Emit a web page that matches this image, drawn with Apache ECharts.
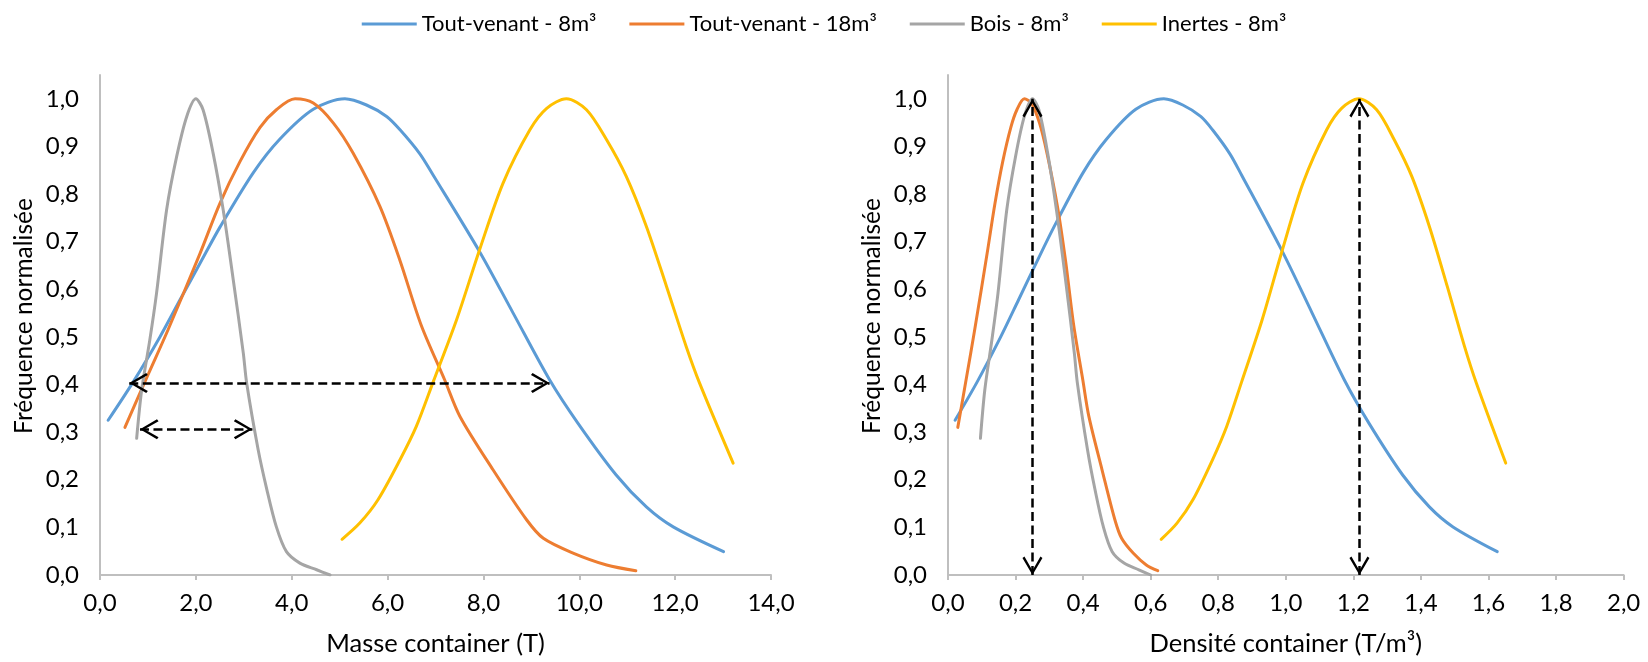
<!DOCTYPE html>
<html>
<head>
<meta charset="utf-8">
<script src="https://cdn.jsdelivr.net/npm/echarts@6/dist/echarts.min.js"></script>
<style>
html,body{margin:0;padding:0;background:#fff;}
#chart{width:1648px;height:662px;}
</style>
</head>
<body>
<div id="chart"></div>
<script>
// ---- Series names ----
const seriesNames = ['Tout-venant - 8m³', 'Tout-venant - 18m³', 'Bois - 8m³', 'Inertes - 8m³'];
const seriesColors = ['#5B9BD5', '#ED7D31', '#A5A5A5', '#FFC000'];

// ---- Normalised frequency values (shared by both panels) ----
const freqBlue   = [0.325,0.405,0.50,0.578,0.655,0.73,0.845,0.915,0.978,1.0,0.987,0.963,0.935,0.885,0.84,0.679,0.55,0.41,0.319,0.21,0.143,0.101,0.049];
const freqOrange = [0.31,0.42,0.515,0.676,0.78,0.868,0.94,0.977,1.0,0.991,0.949,0.886,0.774,0.66,0.525,0.41,0.333,0.221,0.116,0.077,0.046,0.021,0.009];
const freqGray   = [0.287,0.389,0.494,0.592,0.767,0.879,0.963,1.0,0.977,0.886,0.767,0.62,0.466,0.403,0.263,0.18,0.101,0.049,0.025,0.011,0.0];
const freqYellow = [0.075,0.109,0.158,0.242,0.312,0.405,0.536,0.683,0.823,0.935,0.98,1.0,0.977,0.914,0.837,0.732,0.606,0.48,0.403,0.235];

// ---- Left panel: container mass (T) ----
const massBlue   = [0.17,0.69,1.25,1.67,2.09,2.50,3.20,3.75,4.45,5.11,5.56,5.98,6.26,6.67,6.95,7.92,8.62,9.38,9.97,10.77,11.40,11.96,13.01];
const massOrange = [0.52,1.0,1.42,2.09,2.50,2.92,3.34,3.68,4.07,4.45,4.87,5.28,5.84,6.26,6.70,7.19,7.51,8.20,8.90,9.25,9.87,10.57,11.18];
const massGray   = [0.765,0.87,1.04,1.18,1.39,1.60,1.81,2.0,2.15,2.36,2.57,2.78,2.99,3.06,3.30,3.48,3.68,3.89,4.17,4.52,4.80];
const massYellow = [5.05,5.42,5.80,6.26,6.60,6.95,7.44,7.92,8.41,8.97,9.32,9.73,10.15,10.57,10.98,11.40,11.82,12.23,12.51,13.21];

// ---- Right panel: container density (T/m³) ----
const densBlue   = [0.021,0.086,0.156,0.209,0.261,0.313,0.400,0.469,0.556,0.639,0.695,0.748,0.783,0.834,0.869,0.990,1.078,1.173,1.246,1.346,1.425,1.495,1.626];
const densOrange = [0.029,0.056,0.079,0.116,0.139,0.162,0.186,0.204,0.226,0.247,0.271,0.293,0.324,0.348,0.372,0.399,0.417,0.456,0.494,0.514,0.548,0.587,0.621];
const densGray   = [0.096,0.109,0.130,0.148,0.174,0.200,0.226,0.250,0.269,0.295,0.321,0.348,0.374,0.383,0.413,0.435,0.460,0.486,0.521,0.565,0.600];
const densYellow = [0.631,0.678,0.725,0.783,0.825,0.869,0.930,0.990,1.051,1.121,1.165,1.216,1.269,1.321,1.373,1.425,1.478,1.529,1.564,1.651];

// ---- Annotation arrows [x1, y1, x2, y2] ----
const massArrows = [[0.61, 0.403, 9.38, 0.403], [0.834, 0.306, 3.18, 0.306]];
const densArrows = [[0.25, 0.0, 0.25, 1.0], [1.218, 0.0, 1.218, 1.0]];

// ---- Axis settings ----
const massAxis = {min: 0, max: 14, interval: 2, title: 'Masse container (T)'};
const densAxis = {min: 0, max: 2, interval: 0.2, title: 'Densité container (T/m³)'};
const freqAxis = {min: 0, max: 1.05, interval: 0.1, title: 'Fréquence normalisée'};

const FONT = 'Lato';
const TEXT_COLOR = '#000';
const AXIS_COLOR = '#BFBFBF';

function pairs(xs, ys) { return xs.map((v, i) => [v, ys[i]]); }
function fmt1(v) { return (Math.round(v * 10) / 10).toFixed(1).replace('.', ','); }

function xAxisCfg(idx, ax) {
  return {
    type: 'value', gridIndex: idx, min: ax.min, max: ax.max, interval: ax.interval,
    name: ax.title, nameLocation: 'middle', nameGap: 56,
    nameTextStyle: {fontFamily: FONT, fontSize: 25.5, color: TEXT_COLOR},
    axisLine: {show: true, lineStyle: {color: AXIS_COLOR, width: 2}},
    axisTick: {show: true, length: 5, lineStyle: {color: AXIS_COLOR, width: 2}},
    splitLine: {show: false},
    axisLabel: {fontFamily: FONT, fontSize: 24, color: TEXT_COLOR, margin: 16, formatter: fmt1}
  };
}
function yAxisCfg(idx) {
  return {
    type: 'value', gridIndex: idx, min: freqAxis.min, max: freqAxis.max, interval: freqAxis.interval,
    name: freqAxis.title, nameLocation: 'middle', nameGap: 63, nameRotate: 90,
    nameTextStyle: {fontFamily: FONT, fontSize: 24.5, color: TEXT_COLOR, padding: [0, 0, 0, 18]},
    axisLine: {show: true, lineStyle: {color: AXIS_COLOR, width: 2}},
    axisTick: {show: false},
    splitLine: {show: false},
    axisLabel: {fontFamily: FONT, fontSize: 24, color: TEXT_COLOR, margin: 21, showMaxLabel: false, formatter: fmt1}
  };
}

function curve(name, color, xs, ys, gi) {
  return {
    name: name, type: 'line', xAxisIndex: gi, yAxisIndex: gi,
    data: pairs(xs, ys), showSymbol: false, symbol: 'none',
    smooth: 0.3,
    lineStyle: {color: color, width: 3, cap: 'round', join: 'round'},
    itemStyle: {color: color},
    emphasis: {disabled: true}, z: 2
  };
}

// chevron with its tip at the centre of its bounding box (invisible zero-area subpath balances the box)
const chevron = 'path://M10,0 L20,17 L18,18.6 L10,4.5 L2,18.6 L0,17 Z M10,-18.6 L10.001,-18.6 L10,-18.6 Z';
function arrowSeries(arrows, gi) {
  return {
    name: 'arrows' + gi, type: 'line', xAxisIndex: gi, yAxisIndex: gi, data: [],
    silent: true, z: 5,
    markLine: {
      silent: true, animation: false,
      symbol: [chevron, chevron], symbolSize: [20, 37.2],
      label: {show: false},
      lineStyle: {color: '#000', width: 2.5, type: [9, 4.5], opacity: 1},
      itemStyle: {color: '#000'},
      emphasis: {disabled: true},
      data: arrows.map(a => [{coord: [a[0], a[1]]}, {coord: [a[2], a[3]]}])
    }
  };
}

const chart = echarts.init(document.getElementById('chart'), null, {renderer: 'canvas'});
chart.setOption({
  animation: false,
  backgroundColor: '#fff',
  textStyle: {fontFamily: FONT},
  legend: {
    data: seriesNames, top: 8, left: 'center',
    icon: 'rect', itemWidth: 55, itemHeight: 3, itemGap: 33,
    textStyle: {fontFamily: FONT, fontSize: 22, color: TEXT_COLOR},
    selectedMode: false
  },
  grid: [
    {left: 100, top: 75, width: 671, height: 500},
    {left: 948, top: 75, width: 675.6, height: 500}
  ],
  xAxis: [xAxisCfg(0, massAxis), xAxisCfg(1, densAxis)],
  yAxis: [yAxisCfg(0), yAxisCfg(1)],
  series: [
    curve(seriesNames[0], seriesColors[0], massBlue, freqBlue, 0),
    curve(seriesNames[1], seriesColors[1], massOrange, freqOrange, 0),
    curve(seriesNames[2], seriesColors[2], massGray, freqGray, 0),
    curve(seriesNames[3], seriesColors[3], massYellow, freqYellow, 0),
    curve(seriesNames[0], seriesColors[0], densBlue, freqBlue, 1),
    curve(seriesNames[1], seriesColors[1], densOrange, freqOrange, 1),
    curve(seriesNames[2], seriesColors[2], densGray, freqGray, 1),
    curve(seriesNames[3], seriesColors[3], densYellow, freqYellow, 1),
    arrowSeries(massArrows, 0),
    arrowSeries(densArrows, 1)
  ]
});
</script>
</body>
</html>
